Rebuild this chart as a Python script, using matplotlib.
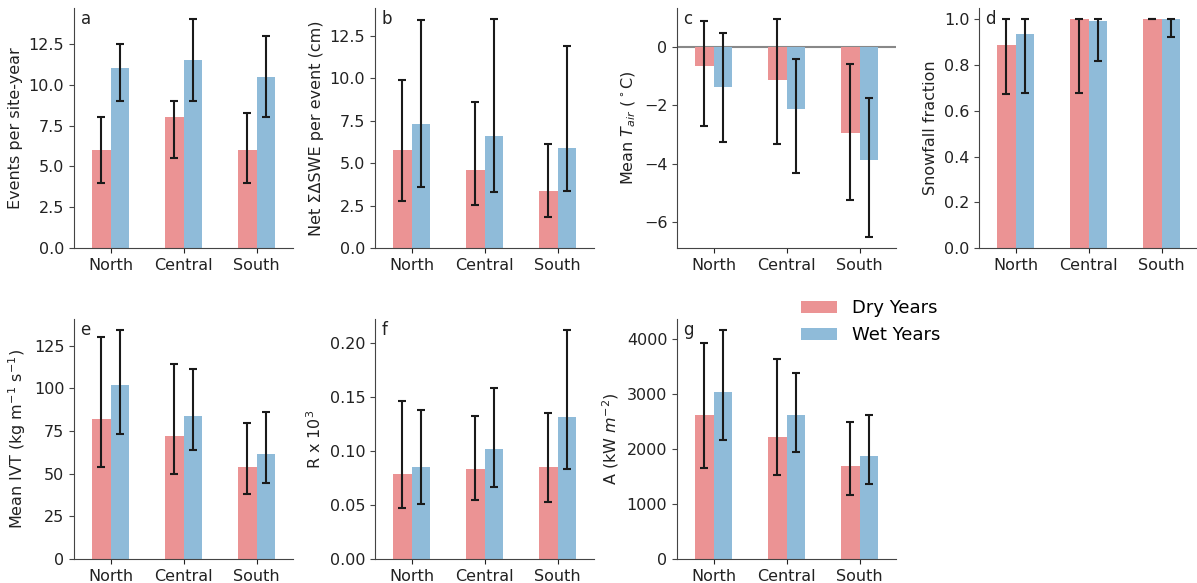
import matplotlib
matplotlib.use("Agg")
import matplotlib.pyplot as plt
import numpy as np

regions = ["North", "Central", "South"]
series_labels = ["Dry Years", "Wet Years"]

# a: events per site-year
a_dry = [6.0, 8.0, 6.0]
a_dry_lo = [4.0, 5.5, 4.0]
a_dry_hi = [8.0, 9.0, 8.25]
a_wet = [11.0, 11.5, 10.5]
a_wet_lo = [9.0, 9.0, 8.0]
a_wet_hi = [12.5, 14.0, 13.0]

# b: net SWE per event
b_dry = [5.79, 4.57, 3.36]
b_dry_lo = [2.75, 2.55, 1.84]
b_dry_hi = [9.91, 8.58, 6.14]
b_wet = [7.32, 6.61, 5.89]
b_wet_lo = [3.57, 3.32, 3.38]
b_wet_hi = [13.40, 13.46, 11.87]

# c: mean Tair
c_dry = [-0.66, -1.15, -2.96]
c_dry_lo = [-2.71, -3.34, -5.24]
c_dry_hi = [0.89, 0.95, -0.60]
c_wet = [-1.38, -2.14, -3.87]
c_wet_lo = [-3.25, -4.33, -6.51]
c_wet_hi = [0.48, -0.43, -1.74]

# d: snowfall fraction
d_dry = [0.888, 1.0, 1.0]
d_dry_lo = [0.672, 0.677, 1.0]
d_dry_hi = [1.0, 1.0, 1.0]
d_wet = [0.936, 0.994, 1.0]
d_wet_lo = [0.676, 0.818, 0.923]
d_wet_hi = [1.0, 1.0, 1.0]

# e: mean IVT
e_dry = [82.0, 72.3, 53.7]
e_dry_lo = [54.1, 49.6, 38.1]
e_dry_hi = [129.9, 114.6, 79.9]
e_wet = [102.0, 84.0, 61.5]
e_wet_lo = [73.0, 63.9, 44.3]
e_wet_hi = [134.0, 111.5, 85.9]

# f: R x 10^3
f_dry = [0.0788, 0.0838, 0.0853]
f_dry_lo = [0.047, 0.0547, 0.0532]
f_dry_hi = [0.147, 0.1326, 0.1354]
f_wet = [0.085, 0.1017, 0.1317]
f_wet_lo = [0.051, 0.0668, 0.0832]
f_wet_hi = [0.1385, 0.1589, 0.2121]

# g: A
g_dry = [2612, 2212, 1697]
g_dry_lo = [1649, 1527, 1164]
g_dry_hi = [3921, 3642, 2497]
g_wet = [3042, 2618, 1879]
g_wet_lo = [2164, 1940, 1358]
g_wet_hi = [4158, 3388, 2618]

panels = [
    ("a", "Events per site-year", a_dry, a_dry_lo, a_dry_hi, a_wet, a_wet_lo, a_wet_hi),
    ("b", "Net \u03a3\u0394SWE per event (cm)", b_dry, b_dry_lo, b_dry_hi, b_wet, b_wet_lo, b_wet_hi),
    ("c", "Mean $T_{air}$ ($^\\circ$C)", c_dry, c_dry_lo, c_dry_hi, c_wet, c_wet_lo, c_wet_hi),
    ("d", "Snowfall fraction", d_dry, d_dry_lo, d_dry_hi, d_wet, d_wet_lo, d_wet_hi),
    ("e", "Mean IVT (kg m$^{-1}$ s$^{-1}$)", e_dry, e_dry_lo, e_dry_hi, e_wet, e_wet_lo, e_wet_hi),
    ("f", "R x 10$^3$", f_dry, f_dry_lo, f_dry_hi, f_wet, f_wet_lo, f_wet_hi),
    ("g", "A (kW $m^{-2}$)", g_dry, g_dry_lo, g_dry_hi, g_wet, g_wet_lo, g_wet_hi),
]

W, H = 1197, 583
fig = plt.figure(figsize=(W / 100, H / 100), dpi=100)
plt.rcParams['font.size'] = 11

lefts = [74, 375, 677, 979]
row_tops = [8, 319]
ax_w, ax_h = 219, 240

dry_color = (235/255, 147/255, 148/255)
wet_color = (143/255, 187/255, 217/255)
spine_col = "#444444"

x = np.arange(len(regions))
bw = 0.25

for i, (lab, ylab, dv, dlo, dhi, wv, wlo, whi) in enumerate(panels):
    r, c = divmod(i, 4)
    left = lefts[c]
    top = row_tops[r]
    ax = fig.add_axes([left / W, (H - top - ax_h) / H, ax_w / W, ax_h / H])
    dv = np.array(dv); wv = np.array(wv)
    derr = [dv - np.array(dlo), np.array(dhi) - dv]
    werr = [wv - np.array(wlo), np.array(whi) - wv]
    ax.bar(x - bw / 2, dv, bw, color=dry_color, linewidth=0,
           label=series_labels[0], zorder=2)
    ax.bar(x + bw / 2, wv, bw, color=wet_color, linewidth=0,
           label=series_labels[1], zorder=2)
    ekw = dict(fmt="none", ecolor="#1a1a1a", elinewidth=1.5, capsize=3, capthick=1.5, zorder=3)
    ax.errorbar(x - bw / 2, dv, yerr=derr, **ekw)
    ax.errorbar(x + bw / 2, wv, yerr=werr, **ekw)
    ax.set_xlim(-0.5, 2.5)
    if lab == "c":
        ax.axhline(0, color="#888888", lw=1.5, zorder=1)
    ax.set_xticks(x)
    ax.set_xticklabels(regions, fontsize=11.5)
    ax.tick_params(axis="y", labelsize=11.5, colors="#222222")
    ax.tick_params(axis="both", color=spine_col)
    ax.tick_params(axis="x", colors="#222222")
    for s in ["top", "right"]:
        ax.spines[s].set_visible(False)
    for s in ["left", "bottom"]:
        ax.spines[s].set_color(spine_col)
    ax.set_ylabel(ylab, fontsize=11.5, color="#222222")
    ax.text(0.03, 0.99, lab, transform=ax.transAxes, ha="left", va="top", fontsize=12, color="#222222")
    if lab == "g":
        handles, labels = ax.get_legend_handles_labels()

fig.legend(handles, labels, loc="upper left", bbox_to_anchor=(785 / W, (H - 283) / H),
           frameon=False, fontsize=13, handlelength=2.0)

fig.savefig("out.png", dpi=100)
